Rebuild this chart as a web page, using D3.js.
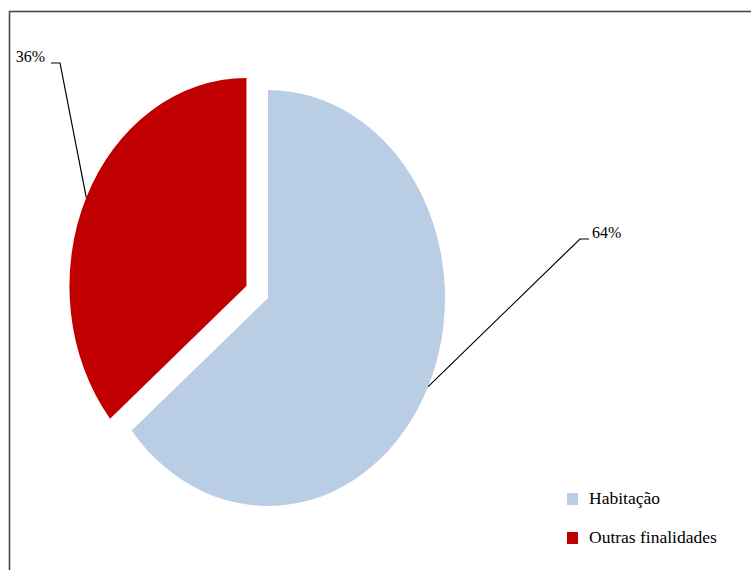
<!DOCTYPE html>
<html><head><meta charset="utf-8">
<script src="https://cdn.jsdelivr.net/npm/d3@7"></script>
<style>html,body{margin:0;padding:0;background:#fff;}svg{display:block;}
text{font-family:"Liberation Serif","DejaVu Serif",serif;}</style>
</head><body>
<script>
const categories = ["Habitação", "Outras finalidades"];
const values = [64, 36];
const colors = ["#B9CDE5", "#C00000"];
const pctLabels = ["64%", "36%"];

const W = 751, H = 570;
const cx = 268, cy = 298, rx = 177, ry = 208;
const explode = [0, 28];
const labelPos = [{x: 580, y: 239, side: 1}, {x: 60, y: 63, side: -1}];

const svg = d3.select("body").append("svg").attr("width", W).attr("height", H);

// frame
svg.append("rect").attr("x", 9.5).attr("y", 11.5).attr("width", W + 10).attr("height", H + 10)
  .attr("fill", "none").attr("stroke", "#4a4a4a").attr("stroke-width", 1.6);

const data = categories.map((c, i) => ({cat: c, value: values[i], color: colors[i], label: pctLabels[i], idx: i}));
const pie = d3.pie().sort(null).value(d => d.value);
const arcs = pie(data);
const arc = d3.arc().innerRadius(0).outerRadius(ry);
const sx = rx / ry;

arcs.forEach((a, i) => {
  const mid = (a.startAngle + a.endAngle) / 2;
  const ox = Math.sin(mid) * explode[i] * sx;
  const oy = -Math.cos(mid) * explode[i];
  const g = svg.append("g").attr("transform", `translate(${cx + ox},${cy + oy}) scale(${sx},1)`);
  g.append("path").attr("d", arc(a)).attr("fill", a.data.color);
  const px = cx + ox + Math.sin(mid) * ry * sx;
  const py = cy + oy - Math.cos(mid) * ry;
  const lp = labelPos[i];
  svg.append("polyline")
    .attr("points", `${px},${py} ${lp.x},${lp.y} ${lp.x + lp.side * 9},${lp.y}`)
    .attr("fill", "none").attr("stroke", "#000").attr("stroke-width", 1.2);
  svg.append("text")
    .attr("x", lp.side > 0 ? lp.x + 12 : lp.x - 15)
    .attr("y", lp.y - 1)
    .attr("text-anchor", lp.side > 0 ? "start" : "end")
    .attr("font-size", 16).attr("fill", "#000")
    .text(a.data.label);
});

const legend = svg.append("g");
data.forEach((d, i) => {
  const y = 493 + i * 39;
  legend.append("rect").attr("x", 567).attr("y", y).attr("width", 11).attr("height", 12).attr("fill", d.color);
  legend.append("text").attr("x", 589).attr("y", y + 10.5)
    .attr("font-size", 17.5).attr("fill", "#000").text(d.cat);
});
</script>
</body></html>
